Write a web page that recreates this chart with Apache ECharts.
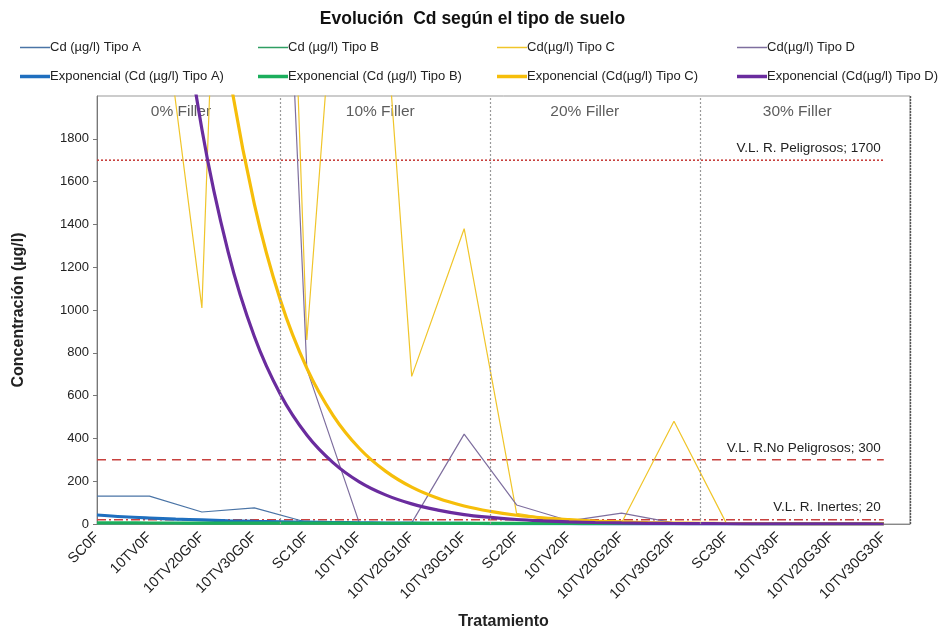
<!DOCTYPE html>
<html>
<head>
<meta charset="utf-8">
<title>Evolución Cd según el tipo de suelo</title>
<script src="https://cdn.jsdelivr.net/npm/echarts@6/dist/echarts.min.js"></script>
<style>
  html, body { margin: 0; padding: 0; background: #fff; }
  #chart { width: 945px; height: 633px; }
</style>
</head>
<body>
<div id="chart"></div>
<script>
const categories = ['SC0F', '10TV0F', '10TV20G0F', '10TV30G0F', 'SC10F', '10TV10F', '10TV20G10F', '10TV30G10F',
  'SC20F', '10TV20F', '10TV20G20F', '10TV30G20F', 'SC30F', '10TV30F', '10TV20G30F', '10TV30G30F']

// medidas (µg/l)
const tipoA = [130, 130, 56, 75, 8, 4, 3, 3, 3, 2, 2, 2, 1, 1, 1, 1]
const tipoB = [3, 3, 2, 2, 2, 2, 1, 1, 1, 1, 1, 1, 1, 1, 1, 1]
const tipoC = [3000, 2930, 1010, 7800, 860, 4100, 690, 1380, 50, 10, 5, 480, 3, 1, 1, 1]
const tipoD = [5000, 4000, 3000, 6270, 725, 5, 5, 420, 89, 15, 51, 5, 2, 1, 1, 1]

// líneas de tendencia exponencial (cada media categoría)
const trendX = [0, 0.5, 1, 1.5, 2, 2.5, 3, 3.5, 4, 4.5, 5, 5.5, 6, 6.5, 7, 7.5,
  8, 8.5, 9, 9.5, 10, 10.5, 11, 11.5, 12, 12.5, 13, 13.5, 14, 14.5, 15]
const expA = [42, 34, 28, 23, 19, 15, 12, 10, 8.3, 6.8, 5.5, 4.5, 3.7, 3, 2.5, 2, 1.6, 1.3, 1.1, 0.9, 0.7, 0.6, 0.5, 0.4, 0.3, 0.25, 0.2, 0.15, 0.1, 0.1, 0.1]
const expB = [5, 4.9, 4.7, 4.6, 4.4, 4.3, 4.1, 4, 3.8, 3.7, 3.6, 3.5, 3.4, 3.3, 3.2, 3.1, 3, 2.9, 2.8, 2.7, 2.6, 2.5, 2.4, 2.35, 2.3, 2.2, 2.1, 2.05, 2, 1.95, 1.9]
const expC = [12960, 9040, 6310, 4400, 3070, 2142, 1495, 1043, 728, 508, 354, 247, 172, 120, 84, 59, 41, 28.5, 20, 13.9, 9.7, 6.8, 4.7, 3.3, 2.3, 1.6, 1.1, 0.8, 0.5, 0.4, 0.3]
const expD = [8200, 5650, 3890, 2680, 1845, 1272, 876, 604, 416, 287, 197, 136, 94, 65, 44, 31, 21, 14.6, 10, 6.9, 4.8, 3.3, 2.3, 1.6, 1.1, 0.74, 0.5, 0.35, 0.2, 0.17, 0.1]

// valores límite
const limitNames = ['V.L. R. Peligrosos', 'V.L. R.No Peligrosos', 'V.L. R. Inertes']
const limitValues = [1700, 300, 20]

// separadores de grupos y rótulos
const separatorX = [3.5, 7.5, 11.5]
const borderX = 15.5
const fillerNames = ['0% Filler', '10% Filler', '20% Filler', '30% Filler']
const fillerX = [1.6, 5.4, 9.3, 13.35]
const fillerY = 1925

const yTicks = { min: 0, max: 2000, interval: 200 }

const FONT = '"Liberation Sans", Arial, sans-serif'
const chart = echarts.init(document.getElementById('chart'))

const toPoints = (arr) => arr.map((v, i) => [i, v])
const toTrend = (arr) => arr.map((v, i) => [trendX[i], v])

const COLORS = {
  A: '#4A74A6', B: '#2E9E62', C: '#F0C52A', D: '#7E6E9E',
  expA: '#1F6FBF', expB: '#1BAE5C', expC: '#F6BE0A', expD: '#6A2C9E',
  limit: '#C8413E'
}

function thinLine(name, arr, color) {
  return {
    name, type: 'line', data: toPoints(arr), symbol: 'none', z: 3,
    lineStyle: { width: 1.2, color }, itemStyle: { color }
  }
}
function trendLine(name, arr, color) {
  return {
    name, type: 'line', data: toTrend(arr), symbol: 'none', smooth: 0.4, z: 4,
    lineStyle: { width: 3.2, color }, itemStyle: { color }
  }
}

const limitStyles = [
  { type: [2, 2], width: 1.6 },
  { type: [9, 6], width: 1.6 },
  { type: [9, 3, 2, 3], width: 1.6 }
]

// rótulo en el último punto de cada línea límite
const limitSeries = limitValues.map((v, k) => ({
  name: limitNames[k],
  type: 'line',
  symbol: 'circle',
  symbolSize: 0,
  showSymbol: true,
  z: 2,
  silent: true,
  lineStyle: Object.assign({ color: COLORS.limit }, limitStyles[k]),
  itemStyle: { color: COLORS.limit },
  data: [
    { value: [0, v], label: { show: false } },
    {
      value: [categories.length - 1, v],
      label: {
        show: true,
        position: 'top',
        align: 'right',
        distance: 5,
        offset: [-3, 0],
        formatter: limitNames[k] + '; ' + v,
        color: '#222',
        fontSize: 13.5,
        fontFamily: FONT
      }
    }
  ]
}))

// leyenda: 4 columnas x 2 filas
const legendRows = [
  { names: ['Cd (µg/l) Tipo A', 'Cd (µg/l) Tipo B', 'Cd(µg/l) Tipo C', 'Cd(µg/l) Tipo D'], h: 1.5, top: 41 },
  { names: ['Exponencial (Cd (µg/l) Tipo A)', 'Exponencial (Cd (µg/l) Tipo B)', 'Exponencial (Cd(µg/l) Tipo C)', 'Exponencial (Cd(µg/l) Tipo D)'], h: 3.5, top: 70 }
]
const legendLeft = [20, 258, 497, 737]
const legends = []
legendRows.forEach((row) => {
  row.names.forEach((name, c) => {
    legends.push({
      left: legendLeft[c],
      top: row.top,
      icon: 'rect',
      itemWidth: 30,
      itemHeight: row.h,
      padding: 0,
      textStyle: { fontSize: 13, fontFamily: FONT, color: '#222', padding: [0, 0, 0, -5] },
      data: [name]
    })
  })
})

const option = {
  animation: false,
  backgroundColor: '#fff',
  title: {
    text: 'Evolución  Cd según el tipo de suelo',
    left: 'center',
    top: 5,
    textStyle: { fontSize: 17.5, fontWeight: 'bold', fontFamily: FONT, color: '#111' }
  },
  legend: legends,
  grid: {
    left: 97, right: 35, top: 96, bottom: 109,
    outerBoundsMode: 'none',
    containLabel: false,
    show: true, borderColor: '#999', borderWidth: 1
  },
  xAxis: {
    type: 'value',
    min: 0,
    max: borderX,
    interval: 1,
    name: 'Tratamiento',
    nameLocation: 'middle',
    nameGap: 90,
    nameTextStyle: { fontSize: 16, fontWeight: 'bold', fontFamily: FONT, color: '#222' },
    axisLine: { show: true, lineStyle: { color: '#888' } },
    axisTick: { show: false },
    splitLine: { show: false },
    axisLabel: {
      rotate: 45,
      margin: 11,
      fontSize: 14.5,
      fontFamily: FONT,
      color: '#222',
      showMaxLabel: false,
      formatter: (v) => Number.isInteger(v) && categories[v] ? categories[v] : ''
    }
  },
  yAxis: {
    type: 'value',
    min: yTicks.min,
    max: yTicks.max,
    interval: yTicks.interval,
    name: 'Concentración (µg/l)',
    nameLocation: 'middle',
    nameGap: 70,
    nameTextStyle: { fontSize: 16, fontWeight: 'bold', fontFamily: FONT, color: '#222' },
    axisLine: { show: true, lineStyle: { color: '#777' } },
    axisTick: { show: true, length: 4, lineStyle: { color: '#777' } },
    splitLine: { show: false },
    axisLabel: { fontSize: 13, fontFamily: FONT, color: '#222', showMaxLabel: false, formatter: (v) => String(v) }
  },
  series: [
    ...limitSeries,
    thinLine('Cd (µg/l) Tipo A', tipoA, COLORS.A),
    thinLine('Cd (µg/l) Tipo B', tipoB, COLORS.B),
    thinLine('Cd(µg/l) Tipo C', tipoC, COLORS.C),
    thinLine('Cd(µg/l) Tipo D', tipoD, COLORS.D),
    trendLine('Exponencial (Cd (µg/l) Tipo A)', expA, COLORS.expA),
    trendLine('Exponencial (Cd (µg/l) Tipo B)', expB, COLORS.expB),
    trendLine('Exponencial (Cd(µg/l) Tipo C)', expC, COLORS.expC),
    trendLine('Exponencial (Cd(µg/l) Tipo D)', expD, COLORS.expD),
    {
      name: 'separadores',
      type: 'scatter',
      symbolSize: 0,
      silent: true,
      data: fillerX.map((x, i) => ({ value: [x, fillerY], name: fillerNames[i] })),
      label: {
        show: true,
        position: 'inside',
        formatter: (p) => p.name,
        fontSize: 15.5,
        fontFamily: FONT,
        color: '#333'
      },
      markLine: {
        symbol: 'none',
        silent: true,
        label: { show: false },
        lineStyle: { type: [2, 2], color: '#999', width: 1.2 },
        data: [
          ...separatorX.map((x) => ({ xAxis: x })),
          { xAxis: borderX, lineStyle: { type: [2, 1], color: '#555', width: 1.4 } }
        ]
      }
    }
  ]
}

chart.setOption(option)
</script>
</body>
</html>
